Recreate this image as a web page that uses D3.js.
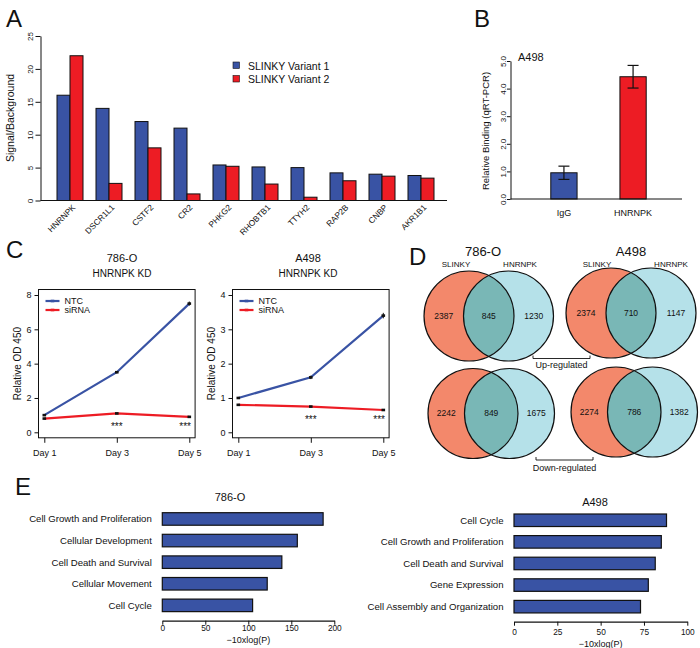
<!DOCTYPE html>
<html lang="en">
<head>
<meta charset="UTF-8">
<title>SLINKY / HNRNPK</title>
<script src="https://d3js.org/d3.v7.min.js"></script>
<style>
  body { margin: 0; background: #fff; }
  svg text { font-family: "Liberation Sans", Arial, sans-serif; fill: #111; }
</style>
</head>
<body>
<div id="fig"></div>
<script>
// ---------- data ----------
// A: SLINKY pulldown, signal over background
const genes = ["HNRNPK", "DSCR1L1", "CSTF2", "CR2", "PHKG2", "RHOBTB1", "TTYH2", "RAP2B", "CNBP", "AKR1B1"];
const variant1 = [16, 14, 12, 11, 5.4, 5.1, 5.0, 4.2, 4.0, 3.8];
const variant2 = [22, 2.6, 8, 1.0, 5.2, 2.5, 0.5, 3.0, 3.7, 3.4];
const seriesA = ["SLINKY Variant 1", "SLINKY Variant 2"];
const ticksA = [0, 5, 10, 15, 20, 25];

// B: RIP in A498
const ripGroups = ["IgG", "HNRNPK"];
const ripMean = [0.95, 4.43];
const ripErr = [0.24, 0.41];
const ticksB = [0, 1, 2, 3, 4, 5];

// C: growth after HNRNPK knockdown
const days = ["Day 1", "Day 3", "Day 5"];
const ntc786 = [1.0, 3.5, 7.5];
const ntc786Err = [0.03, 0.06, 0.12];
const si786 = [0.8, 1.1, 0.9];
const si786Err = [0.02, 0.03, 0.03];
const ntcA498 = [1.0, 1.6, 3.4];
const ntcA498Err = [0.02, 0.05, 0.08];
const siA498 = [0.8, 0.75, 0.65];
const siA498Err = [0.01, 0.02, 0.02];
const sigMarks = ["", "***", "***"];
const ticksC786 = [0, 2, 4, 6, 8];
const ticksCA498 = [0, 1, 2, 3, 4];

// D: overlap of regulated genes (SLINKY only, both, HNRNPK only)
const vennCells = ["786-O", "A498"];
const vennUp = [[2387, 845, 1230], [2374, 710, 1147]];
const vennDown = [[2242, 849, 1675], [2274, 786, 1382]];

// E: pathway enrichment, -10xlog(P)
const terms786 = ["Cell Growth and Proliferation", "Cellular Development", "Cell Death and Survival", "Cellular Movement", "Cell Cycle"];
const score786 = [187, 157, 139, 122, 105];
const termsA498 = ["Cell Cycle", "Cell Growth and Proliferation", "Cell Death and Survival", "Gene Expression", "Cell Assembly and Organization"];
const scoreA498 = [88, 85, 81.5, 77.5, 73];
const ticksE786 = [0, 50, 100, 150, 200];
const ticksEA498 = [0, 25, 50, 75, 100];

// ---------- setup ----------
const blue = "#3953a4", red = "#ed1c24";
const salmon = "#f3886b", lightblue = "#b5e1e9", teal = "#79b7b6";

const svg = d3.select("#fig").append("svg")
    .attr("width", 700)
    .attr("height", 648);

function plainAxis(g, fs) {
    g.attr("font-family", null).attr("font-size", null);
    g.selectAll("line, path").attr("stroke", "#111");
    g.selectAll("text").attr("font-size", fs).attr("fill", "#111");
}

function letter(t, x, y) {
    svg.append("text").attr("x", x).attr("y", y).attr("font-size", 24).text(t);
}

letter("A", 6, 27);
letter("B", 474, 27);
letter("C", 6, 258);
letter("D", 409, 265);
letter("E", 15, 495);

// ---------- A ----------
const gA = svg.append("g");
const xA = d3.scaleBand().domain(genes).range([44, 447]).paddingInner(1 / 3).paddingOuter(1 / 3);
const xA1 = d3.scaleBand().domain([0, 1]).range([0, xA.bandwidth()]);
const yA = d3.scaleLinear().domain([0, 25]).range([200.5, 36]);
const colorsA = [blue, red];

gA.selectAll("g.grp")
    .data(genes)
    .join("g")
    .attr("transform", d => `translate(${xA(d)},0)`)
    .selectAll("rect")
    .data((d, i) => [variant1[i], variant2[i]])
    .join("rect")
    .attr("x", (d, j) => xA1(j))
    .attr("y", d => yA(d))
    .attr("width", xA1.bandwidth())
    .attr("height", d => yA(0) - yA(d))
    .attr("fill", (d, j) => colorsA[j])
    .attr("stroke", "#111")
    .attr("stroke-width", 1);

const axA = gA.append("g")
    .attr("transform", "translate(40.5,0)")
    .call(d3.axisLeft(yA).tickValues(ticksA).tickSize(5).tickSizeOuter(0));
plainAxis(axA, 8);
axA.selectAll(".tick text")
    .attr("x", 0).attr("dy", 0)
    .attr("text-anchor", "middle")
    .attr("transform", "translate(-8,0) rotate(-90)");

gA.append("line")
    .attr("x1", 40.5).attr("x2", 447)
    .attr("y1", yA(0)).attr("y2", yA(0))
    .attr("stroke", "#111");

gA.selectAll("text.gene")
    .data(genes)
    .join("text")
    .attr("class", "gene")
    .attr("transform", d => `translate(${xA(d) + xA.bandwidth() / 2 + 6},208) rotate(-45)`)
    .attr("text-anchor", "end")
    .attr("font-size", 8.3)
    .text(d => d);

gA.append("text")
    .attr("transform", "translate(14,118) rotate(-90)")
    .attr("text-anchor", "middle")
    .attr("font-size", 10.5)
    .text("Signal/Background");

const legA = gA.selectAll("g.leg")
    .data(seriesA)
    .join("g")
    .attr("transform", (d, i) => `translate(233,${62 + i * 13.5})`);
legA.append("rect")
    .attr("width", 6.5).attr("height", 6.5)
    .attr("fill", (d, i) => colorsA[i])
    .attr("stroke", "#111").attr("stroke-width", 0.6);
legA.append("text")
    .attr("x", 15).attr("y", 7.5)
    .attr("font-size", 10.5)
    .text(d => d);

// ---------- B ----------
const gB = svg.append("g");
const xB = d3.scaleBand().domain(ripGroups).range([510, 687]).paddingInner(0.62).paddingOuter(0.59);
const yB = d3.scaleLinear().domain([0, 5]).range([199, 61]);

gB.selectAll("rect")
    .data(ripMean)
    .join("rect")
    .attr("x", (d, i) => xB(ripGroups[i]))
    .attr("y", d => yB(d))
    .attr("width", xB.bandwidth())
    .attr("height", d => yB(0) - yB(d))
    .attr("fill", (d, i) => colorsA[i])
    .attr("stroke", "#111");

const errB = gB.selectAll("g.err")
    .data(ripMean)
    .join("g")
    .attr("transform", (d, i) => `translate(${xB(ripGroups[i]) + xB.bandwidth() / 2},0)`);
errB.append("line")
    .attr("y1", (d, i) => yB(d - ripErr[i]))
    .attr("y2", (d, i) => yB(d + ripErr[i]))
    .attr("stroke", "#111").attr("stroke-width", 1.2);
errB.selectAll("line.cap")
    .data((d, i) => [d - ripErr[i], d + ripErr[i]])
    .join("line")
    .attr("class", "cap")
    .attr("x1", -5.5).attr("x2", 5.5)
    .attr("y1", d => yB(d)).attr("y2", d => yB(d))
    .attr("stroke", "#111").attr("stroke-width", 1.2);

const axB = gB.append("g")
    .attr("transform", "translate(510.5,0)")
    .call(d3.axisLeft(yB).tickValues(ticksB).tickSize(3.5).tickSizeOuter(0));
plainAxis(axB, 8);
axB.selectAll(".tick text")
    .attr("x", 0).attr("dy", 0)
    .attr("text-anchor", "middle")
    .attr("transform", "translate(-5,0) rotate(-90)");

gB.append("line")
    .attr("x1", 510.5).attr("x2", 682)
    .attr("y1", yB(0)).attr("y2", yB(0))
    .attr("stroke", "#111");

gB.selectAll("text.grp")
    .data(ripGroups)
    .join("text")
    .attr("class", "grp")
    .attr("x", d => xB(d) + xB.bandwidth() / 2)
    .attr("y", 216)
    .attr("text-anchor", "middle")
    .attr("font-size", 9)
    .text(d => d);

gB.append("text")
    .attr("transform", "translate(489,131) rotate(-90)")
    .attr("text-anchor", "middle")
    .attr("font-size", 9.5)
    .text("Relative Binding (qRT-PCR)");

gB.append("text")
    .attr("x", 518).attr("y", 61)
    .attr("font-size", 11)
    .text("A498");

// ---------- C ----------
function growthPanel(x0, titleX, cell, ntc, ntcErr, si, siErr, ymax, yTicks) {
    const g = svg.append("g");
    const x = d3.scalePoint().domain(days).range([x0, x0 + 145]);
    const y = d3.scaleLinear().domain([0, ymax]).range([432.3, 295]);
    const bx0 = x0 - 5.8, bx1 = x0 + 145 + 5.8;
    const by0 = y(ymax * 1.04), by1 = y(-ymax * 0.04);

    g.append("rect")
        .attr("x", bx0).attr("y", by0)
        .attr("width", bx1 - bx0).attr("height", by1 - by0)
        .attr("fill", "none").attr("stroke", "#111");

    const ay = g.append("g")
        .attr("transform", `translate(${bx0},0)`)
        .call(d3.axisLeft(y).tickValues(yTicks).tickFormat(d3.format("d")).tickSize(4).tickPadding(3));
    ay.select(".domain").remove();
    plainAxis(ay, 9);

    const ax = g.append("g")
        .attr("transform", `translate(0,${by1})`)
        .call(d3.axisBottom(x).tickSize(5).tickPadding(7));
    ax.select(".domain").remove();
    plainAxis(ax, 9);

    g.append("text")
        .attr("transform", `translate(${bx0 - 18},${(by0 + by1) / 2}) rotate(-90)`)
        .attr("text-anchor", "middle")
        .attr("font-size", 10)
        .text("Relative OD 450");

    g.append("text").attr("x", titleX).attr("y", 262)
        .attr("text-anchor", "middle").attr("font-size", 11).text(cell);
    g.append("text").attr("x", titleX).attr("y", 277)
        .attr("text-anchor", "middle").attr("font-size", 10).text("HNRNPK KD");

    const series = [
        { name: "NTC", vals: ntc, err: ntcErr, color: blue },
        { name: "siRNA", vals: si, err: siErr, color: red }
    ];
    const line = d3.line().x((d, i) => x(days[i])).y(d => y(d));

    series.forEach(s => {
        g.append("path")
            .attr("d", line(s.vals))
            .attr("fill", "none")
            .attr("stroke", s.color)
            .attr("stroke-width", 2.2);
        const pts = g.selectAll(null)
            .data(s.vals)
            .join("g")
            .attr("transform", (d, i) => `translate(${x(days[i])},0)`);
        pts.append("line")
            .attr("y1", (d, i) => y(d - s.err[i]))
            .attr("y2", (d, i) => y(d + s.err[i]))
            .attr("stroke", "#111");
        pts.append("rect")
            .attr("x", -1.8).attr("y", d => y(d) - 1.3)
            .attr("width", 3.6).attr("height", 2.6)
            .attr("fill", "#111");
    });

    g.selectAll("text.sig")
        .data(sigMarks)
        .join("text")
        .attr("class", "sig")
        .attr("x", (d, i) => Math.min(x(days[i]), bx1 - 10))
        .attr("y", y(0.4))
        .attr("dy", "0.45em")
        .attr("text-anchor", "middle")
        .attr("font-size", 10)
        .text(d => d);

    const leg = g.selectAll("g.leg")
        .data(series)
        .join("g")
        .attr("transform", (d, i) => `translate(${bx0 + 7},${by0 + 11.5 + i * 9})`);
    leg.append("line")
        .attr("x1", 0).attr("x2", 14)
        .attr("stroke", d => d.color).attr("stroke-width", 2.2);
    leg.append("rect")
        .attr("x", 5.2).attr("y", -1.3)
        .attr("width", 3.6).attr("height", 2.6)
        .attr("fill", d => d.color);
    leg.append("text")
        .attr("x", 19).attr("dy", "0.35em")
        .attr("font-size", 9)
        .text(d => d.name);
}

growthPanel(44.3, 122, "786-O", ntc786, ntc786Err, si786, si786Err, 8, ticksC786);
growthPanel(238.3, 308, "A498", ntcA498, ntcA498Err, siA498, siA498Err, 4, ticksCA498);

// ---------- D ----------
const defs = svg.append("defs");
let clipId = 0;

function venn(cx1, cx2, cy, r, counts) {
    const g = svg.append("g");
    const id = "vclip" + (clipId++);
    defs.append("clipPath").attr("id", id)
        .append("circle").attr("cx", cx1).attr("cy", cy).attr("r", r);

    g.append("circle").attr("cx", cx1).attr("cy", cy).attr("r", r).attr("fill", salmon);
    g.append("circle").attr("cx", cx2).attr("cy", cy).attr("r", r).attr("fill", lightblue);
    g.append("circle").attr("cx", cx2).attr("cy", cy).attr("r", r)
        .attr("fill", teal).attr("clip-path", `url(#${id})`);
    [cx1, cx2].forEach(c => {
        g.append("circle").attr("cx", c).attr("cy", cy).attr("r", r)
            .attr("fill", "none").attr("stroke", "#111").attr("stroke-width", 1.2);
    });

    const mid = (cx1 + cx2) / 2;
    const pos = [mid - r, mid, mid + r];
    g.selectAll("text")
        .data(counts)
        .join("text")
        .attr("x", (d, i) => pos[i])
        .attr("y", cy)
        .attr("dy", "0.35em")
        .attr("text-anchor", "middle")
        .attr("font-size", 8.5)
        .text(d => d);
}

venn(469, 508.5, 316, 45, vennUp[0]);
venn(611, 651, 313, 45, vennUp[1]);
venn(473, 509.5, 413.5, 45, vennDown[0]);
venn(616, 652.5, 412, 45, vennDown[1]);

const vennHead = [
    { title: 483, left: 456, right: 520 },
    { title: 631, left: 597, right: 671 }
];
vennCells.forEach((c, i) => {
    svg.append("text").attr("x", vennHead[i].title).attr("y", 256)
        .attr("text-anchor", "middle").attr("font-size", 13).text(c);
    svg.append("text").attr("x", vennHead[i].left).attr("y", 267)
        .attr("text-anchor", "middle").attr("font-size", 8).text("SLINKY");
    svg.append("text").attr("x", vennHead[i].right).attr("y", 267)
        .attr("text-anchor", "middle").attr("font-size", 8).text("HNRNPK");
});

function bracket(x1, x2, y, label, ty) {
    svg.append("path")
        .attr("d", `M${x1},${y - 3}V${y}H${x2}V${y - 3}`)
        .attr("fill", "none").attr("stroke", "#111").attr("stroke-width", 0.9);
    svg.append("text").attr("x", (x1 + x2) / 2).attr("y", ty)
        .attr("text-anchor", "middle").attr("font-size", 9).text(label);
}
bracket(533, 590, 358.5, "Up-regulated", 368);
bracket(536, 593, 460, "Down-regulated", 471);

// ---------- E ----------
function termPanel(terms, scores, ticks, xr, top, axisY, title, titleX, titleY, tickPad, labY) {
    const g = svg.append("g");
    const step = 21.6;
    const x = d3.scaleLinear().domain([ticks[0], ticks[ticks.length - 1]]).range(xr);
    const y = d3.scaleBand().domain(terms)
        .range([top - 0.36 * step, top - 0.36 * step + step * (5 - 0.42 + 0.72)])
        .paddingInner(0.42).paddingOuter(0.36);

    g.selectAll("rect")
        .data(scores)
        .join("rect")
        .attr("x", x(0))
        .attr("y", (d, i) => y(terms[i]))
        .attr("width", d => x(d) - x(0))
        .attr("height", y.bandwidth())
        .attr("fill", blue)
        .attr("stroke", "#111")
        .attr("stroke-width", 1.2);

    g.selectAll("text.term")
        .data(terms)
        .join("text")
        .attr("class", "term")
        .attr("x", x(0) - 10.5)
        .attr("y", d => y(d) + y.bandwidth() / 2)
        .attr("dy", "0.35em")
        .attr("text-anchor", "end")
        .attr("font-size", 9.6)
        .text(d => d);

    const ax = g.append("g")
        .attr("transform", `translate(0,${axisY})`)
        .call(d3.axisBottom(x).tickValues(ticks).tickSize(4).tickSizeOuter(0).tickPadding(tickPad));
    plainAxis(ax, 8.3);
    ax.select(".domain").attr("stroke-width", 1.2);

    g.append("text")
        .attr("x", (xr[0] + xr[1]) / 2).attr("y", labY)
        .attr("text-anchor", "middle").attr("font-size", 9)
        .text("\u221210xlog(P)");
    g.append("text")
        .attr("x", titleX).attr("y", titleY)
        .attr("text-anchor", "middle").attr("font-size", 11)
        .text(title);
}

termPanel(terms786, score786, ticksE786, [162.3, 334.3], 512.7, 620.7, "786-O", 230, 501, 0.5, 643);
termPanel(termsA498, scoreA498, ticksEA498, [514, 687.3], 514, 621.7, "A498", 595, 505.5, 3.5, 646.5);
</script>
</body>
</html>
